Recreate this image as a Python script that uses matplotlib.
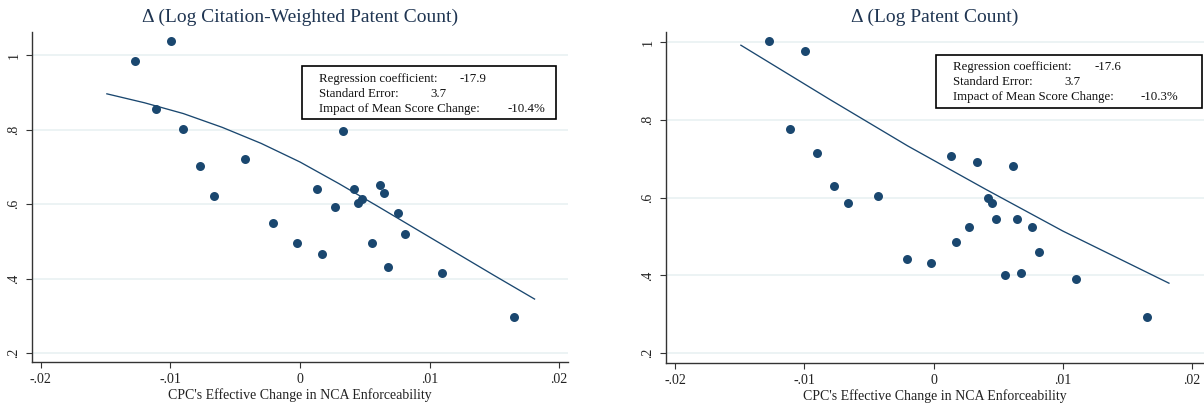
import matplotlib
matplotlib.use("Agg")
import matplotlib.pyplot as plt
from matplotlib.patches import Rectangle

plt.rcParams['font.family'] = ['Liberation Serif', 'DejaVu Serif']

# binned CPC change in NCA enforceability (shared by both panels)
cpc_change = [-0.01275, -0.01112, -0.00994, -0.0090, -0.0077, -0.00665, -0.00426,
              -0.00206, -0.00022, 0.00132, 0.0017, 0.0027, 0.00333, 0.00419,
              0.0045, 0.00481, 0.00556, 0.00616, 0.00648, 0.00679, 0.00759,
              0.00814, 0.01098, 0.01653]

cite_weighted = [0.984, 0.855, 1.038, 0.802, 0.701, 0.623, 0.722, 0.550, 0.495,
                 0.641, 0.466, 0.592, 0.795, 0.641, 0.604, 0.614, 0.496, 0.651,
                 0.630, 0.432, 0.576, 0.519, 0.414, 0.298]

patent_count = [1.003, 0.777, 0.978, 0.716, 0.631, 0.585, 0.603, 0.442, 0.432,
                0.708, 0.485, 0.525, 0.691, 0.598, 0.587, 0.546, 0.402, 0.681,
                0.546, 0.405, 0.525, 0.461, 0.392, 0.294]

# fitted curves
cite_fit_x = [-0.0149, -0.0120, -0.0090, -0.0060, -0.0030, 0.0000, 0.0030,
              0.0060, 0.0090, 0.0120, 0.0150, 0.0181]
cite_fit_y = [0.896, 0.872, 0.843, 0.806, 0.763, 0.713, 0.655, 0.594, 0.532,
              0.470, 0.408, 0.345]

count_fit_x = [-0.0149, -0.0080, -0.0020, 0.0040, 0.0100, 0.0182]
count_fit_y = [0.992, 0.852, 0.733, 0.622, 0.514, 0.380]

x_ticks = [-0.02, -0.01, 0, 0.01, 0.02]
x_tick_labels = ['-.02', '-.01', '0', '.01', '.02']
y_ticks = [0.2, 0.4, 0.6, 0.8, 1.0]
y_tick_labels = ['.2', '.4', '.6', '.8', '1']

titles = ['\u0394 (Log Citation-Weighted Patent Count)', '\u0394 (Log Patent Count)']
box_labels = ['Regression coefficient:', 'Standard Error:', 'Impact of Mean Score Change:']
box_values = [['-17.9', '3.7', '-10.4%'], ['-17.6', '3.7', '-10.3%']]

NAVY = '#1a476f'
W, H = 1204, 407

fig = plt.figure(figsize=(W / 100, H / 100), dpi=100)


def fx(x):
    return x / W


def fy(y):
    return 1 - y / H


panels = [
    dict(rect=(31.7, 32, 568, 362), xlim=(-0.0207, 0.02068), ylim=(0.176, 1.062),
         y=cite_weighted, fit=(cite_fit_x, cite_fit_y),
         box=(302, 66, 556, 119), tx=319, vx=[460, 430, 508], rows=[79, 94, 109]),
    dict(rect=(665.5, 32, 1204, 362.7), xlim=(-0.02073, 0.02091), ylim=(0.1755, 1.026),
         y=patent_count, fit=(count_fit_x, count_fit_y),
         box=(936, 55, 1202, 108), tx=953, vx=[1095, 1064, 1140.5], rows=[67, 82, 97]),
]

for i, p in enumerate(panels):
    l, t, r, b = p['rect']
    ax = fig.add_axes([fx(l), fy(b), (r - l) / W, (b - t) / H])
    ax.scatter(cpc_change, p['y'], s=42, color=NAVY, linewidths=0, zorder=3)
    ax.plot(p['fit'][0], p['fit'][1], color=NAVY, lw=0.95, zorder=2)
    ax.set_xlim(*p['xlim'])
    ax.set_ylim(*p['ylim'])
    ax.set_xticks(x_ticks)
    ax.set_xticklabels(x_tick_labels)
    ax.set_yticks(y_ticks)
    ax.set_yticklabels(y_tick_labels, rotation=90, va='center')
    ax.grid(axis='y', color='#eaf2f3', lw=1.3)
    ax.set_axisbelow(True)
    for s in ['top', 'right']:
        ax.spines[s].set_visible(False)
    for s in ['left', 'bottom']:
        ax.spines[s].set_color('#333333')
        ax.spines[s].set_linewidth(1.0)
    ax.tick_params(direction='out', length=4, width=0.8, color='#333333',
                   labelsize=10, labelcolor='#222222', pad=4)
    ax.set_xlabel("CPC's Effective Change in NCA Enforceability", fontsize=10,
                  color='#222222', labelpad=1.5)

    fig.text(fx((l + r) / 2), fy(17), titles[i], ha='center', va='center',
             fontsize=14, color='#1f3552')

    bl, bt, br, bb = p['box']
    fig.add_artist(Rectangle((fx(bl), fy(bb)), (br - bl) / W, (bb - bt) / H,
                             transform=fig.transFigure, facecolor='white',
                             edgecolor='black', lw=1.2, zorder=5))
    for j in range(3):
        fig.text(fx(p['tx']), fy(p['rows'][j]), box_labels[j], ha='left', va='center',
                 fontsize=9.3, color='#111111', zorder=6)
        fig.text(fx(p['vx'][j]), fy(p['rows'][j]), box_values[i][j], ha='left',
                 va='center', fontsize=9.3, color='#111111', zorder=6)

fig.savefig('out.png', dpi=100)
